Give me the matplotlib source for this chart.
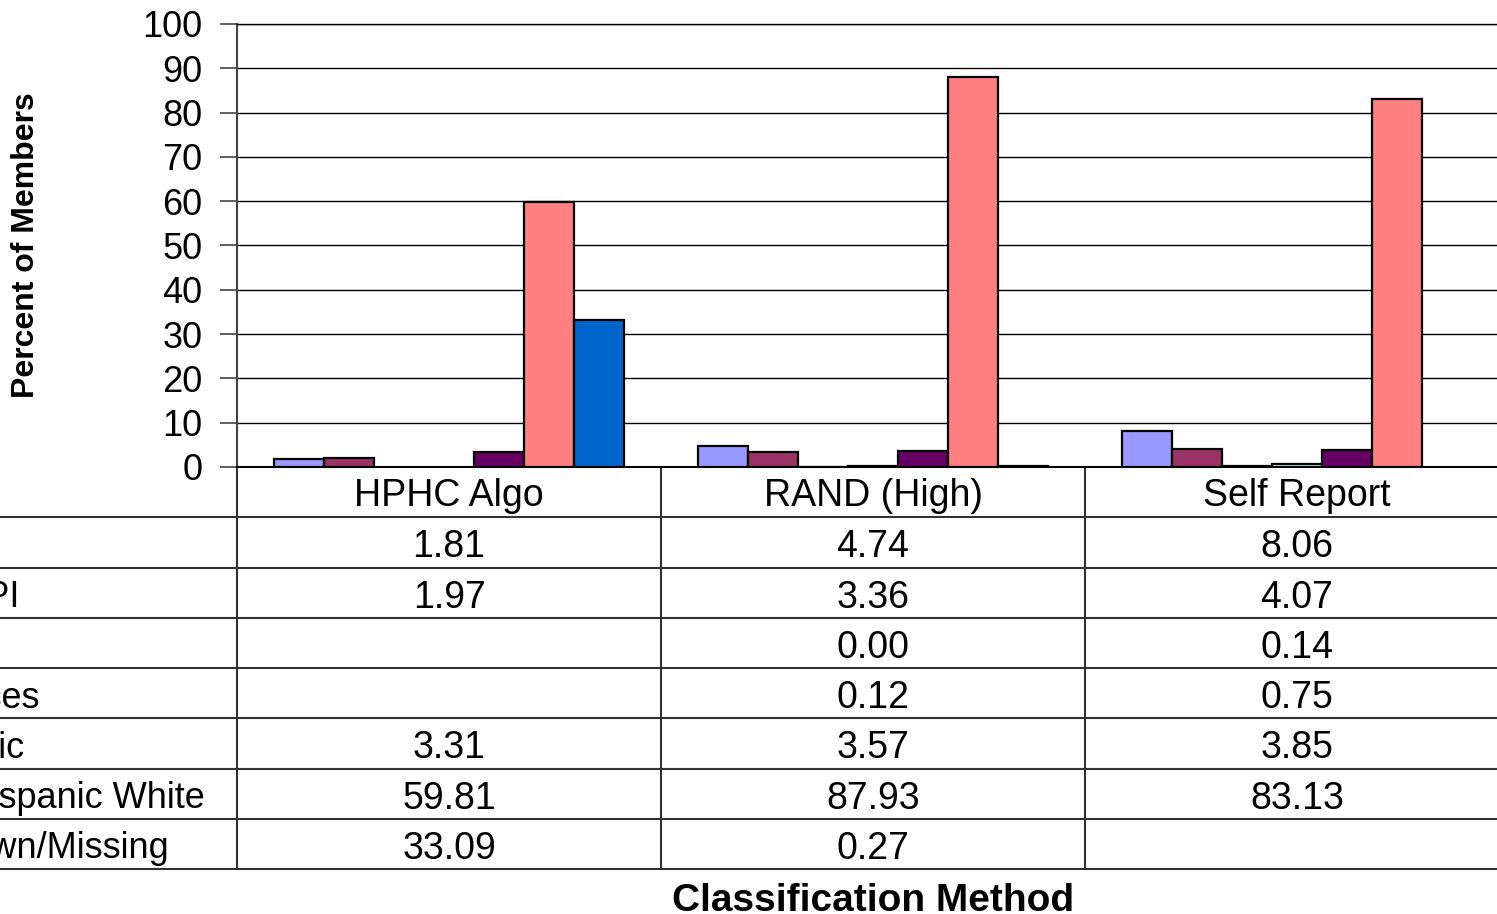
import numpy as np
import matplotlib.pyplot as plt

plt.rcParams['font.family'] = ['Liberation Sans', 'DejaVu Sans']

# dados
grupos = ['HPHC Algo', 'RAND (High)', 'Self Report']
series = ['Black', 'Asian/PI', 'AI/AN', '2+ Races', 'Hispanic',
          'Non-Hispanic White', 'Unknown/Missing']
black = [1.81, 4.74, 8.06]
asian_pi = [1.97, 3.36, 4.07]
ai_an = [np.nan, 0.00, 0.14]
multi = [np.nan, 0.12, 0.75]
hispanic = [3.31, 3.57, 3.85]
nh_white = [59.81, 87.93, 83.13]
unknown = [33.09, 0.27, np.nan]
valores = [black, asian_pi, ai_an, multi, hispanic, nh_white, unknown]
cores = ['#9999FF', '#993366', '#FFFFCC', '#CCFFFF', '#660066', '#FF8080', '#0066CC']

W, H = 1497, 914
fig = plt.figure(figsize=(W / 100, H / 100), dpi=100)

# area do grafico (em pixels): x 237..1509, y 24..467
esq, dir_, topo, base = 237, 1509, 24, 467
ax = fig.add_axes([esq / W, 1 - base / H, (dir_ - esq) / W, (base - topo) / H])

x = np.arange(len(grupos))
bw = 0.118
for i, (vals, cor) in enumerate(zip(valores, cores)):
    ax.bar(x + (i - 3) * bw, vals, bw, color=cor, edgecolor='black',
           linewidth=1.6, zorder=3)

ax.set_xlim(-0.5, 2.5)
ax.set_ylim(0, 100)
ax.set_yticks(range(0, 101, 10))
ax.set_xticks([])
ax.yaxis.grid(True, color='black', linewidth=1)
ax.set_axisbelow(True)
ax.tick_params(axis='y', length=12, width=1.2, pad=13, labelsize=26, color='#444444')
ax.spines['right'].set_visible(False)
ax.spines['top'].set_linewidth(1)
ax.spines['left'].set_color('#444444')
ax.spines['left'].set_linewidth(1.5)
ax.spines['bottom'].set_linewidth(1.5)

# tabela de dados, desenhada em coordenadas de pixel
tab = fig.add_axes([0, 0, 1, 1], zorder=-1)
tab.set_xlim(0, W)
tab.set_ylim(H, 0)
tab.axis('off')

larg_col = (dir_ - esq) / 3
y0, y1 = base, 869
alt = (y1 - y0) / 8
cor_linha = '#333333'

# linhas verticais
for j in range(4):
    xc = esq + j * larg_col
    tab.plot([xc, xc], [y0, y1], color=cor_linha, lw=1.5)
# linhas horizontais
for k in range(1, 9):
    yy = y0 + k * alt
    tab.plot([0, W], [yy, yy], color=cor_linha, lw=1.5)

# cabecalho
for j, g in enumerate(grupos):
    tab.text(esq + (j + 0.5) * larg_col, y0 + 0.5 * alt + 4, g, ha='center',
             va='center', fontsize=27)

# linhas com valores
for k, (nome, vals) in enumerate(zip(series, valores)):
    yc = y0 + (k + 1.5) * alt + 5
    tab.text(-114, yc, nome, ha='left', va='center', fontsize=26)
    for j, v in enumerate(vals):
        if not np.isnan(v):
            tab.text(esq + (j + 0.5) * larg_col, yc, '%.2f' % v, ha='center',
                     va='center', fontsize=27)

fig.text(26 / W, 1 - 245 / H, 'Percent of Members', rotation=90, ha='center',
         va='center', fontsize=23, fontweight='bold')
fig.text(873 / W, 1 - 901 / H, 'Classification Method', ha='center',
         va='center', fontsize=28, fontweight='bold')

plt.savefig('out.png', dpi=100)
